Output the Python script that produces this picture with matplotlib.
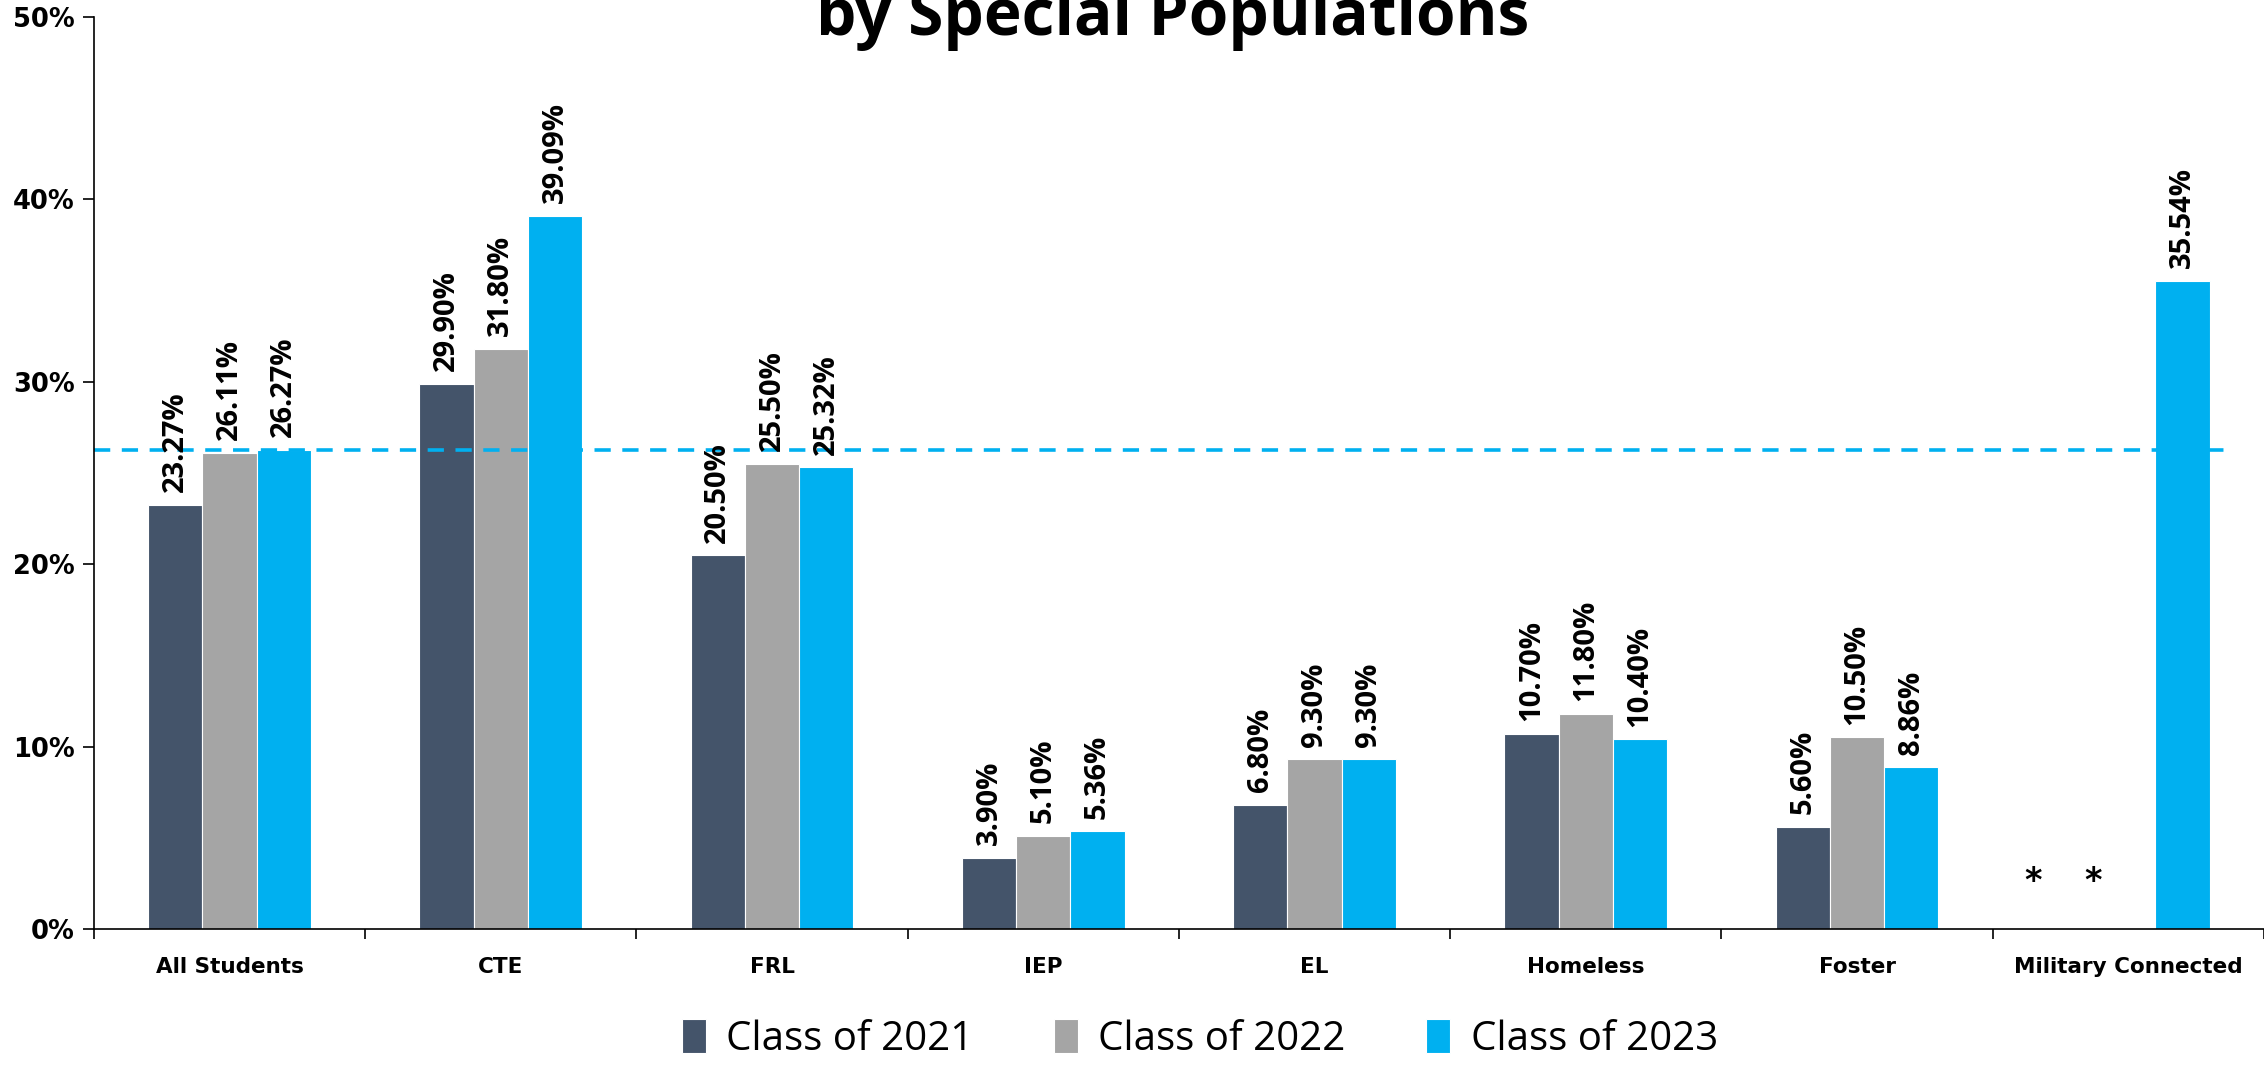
import numpy as np
import matplotlib
matplotlib.use("Agg")
import matplotlib.pyplot as plt

# data (percent)
categories = ['All Students', 'CTE', 'FRL', 'IEP', 'EL', 'Homeless', 'Foster', 'Military Connected']
series_names = ['Class of 2021', 'Class of 2022', 'Class of 2023']
class_2021 = [23.27, 29.90, 20.50, 3.90, 6.80, 10.70, 5.60, np.nan]
class_2022 = [26.11, 31.80, 25.50, 5.10, 9.30, 11.80, 10.50, np.nan]
class_2023 = [26.27, 39.09, 25.32, 5.36, 9.30, 10.40, 8.86, 35.54]
reference_line = 26.27
yticks = [0, 10, 20, 30, 40, 50]

colors = ['#44546A', '#A5A5A5', '#00B0F0']

fig = plt.figure(figsize=(22.64, 10.91), dpi=100)
ax = fig.add_axes([0.0415, 0.1485, 0.9585, 0.836])

x = np.arange(len(categories))
width = 0.2
all_series = [class_2021, class_2022, class_2023]

for i, (vals, name, col) in enumerate(zip(all_series, series_names, colors)):
    pos = x + (i - 1) * width
    ax.bar(pos, np.nan_to_num(vals), width, color=col, label=name,
           edgecolor='white', linewidth=0.8)
    for p, v in zip(pos, vals):
        if np.isnan(v):
            continue
        ax.annotate(f'{v:.2f}%', (p, v), xytext=(0, 9), textcoords='offset points',
                    rotation=90, ha='center', va='bottom', fontsize=21,
                    fontweight='bold', family='Open Sans')

# missing values marked with asterisks
ax.text(7 - 0.35, 2.6, '*', ha='center', va='center', fontsize=24, fontweight='bold')
ax.text(7 - 0.13, 2.6, '*', ha='center', va='center', fontsize=24, fontweight='bold')

# dashed reference line
ax.plot([-0.5, 7.37], [reference_line, reference_line], color='#00B0F0',
        linewidth=2.6, linestyle=(0, (4.5, 3.2)))

ax.set_xlim(-0.5, 7.5)
ax.set_ylim(0, 50)
ax.set_yticks(yticks)
ax.set_yticklabels([f'{t}%' for t in yticks], fontsize=18.5, fontweight='bold')
ax.tick_params(axis='y', length=8, width=1.2, pad=6)

ax.set_xticks(x)
ax.set_xticklabels(categories, fontsize=15.5, fontweight='bold')
ax.set_xticks(np.arange(-0.5, 7.6, 1), minor=True)
ax.tick_params(axis='x', which='major', length=0, pad=20)
ax.tick_params(axis='x', which='minor', length=7, width=1.2)

for s in ['top', 'right']:
    ax.spines[s].set_visible(False)
ax.spines['left'].set_linewidth(1.2)
ax.spines['bottom'].set_linewidth(1.2)

fig.text(0.518, 0.968, 'by Special Populations', ha='center', va='baseline',
         fontsize=46, fontweight='bold', family='Open Sans')

leg = fig.legend(loc='center', bbox_to_anchor=(0.53, 0.047), ncol=3, frameon=False,
                 prop={'family': 'Open Sans', 'size': 29}, handlelength=0.6,
                 handleheight=0.9, handletextpad=0.5, columnspacing=2.0)

fig.savefig('out.png', dpi=100)
